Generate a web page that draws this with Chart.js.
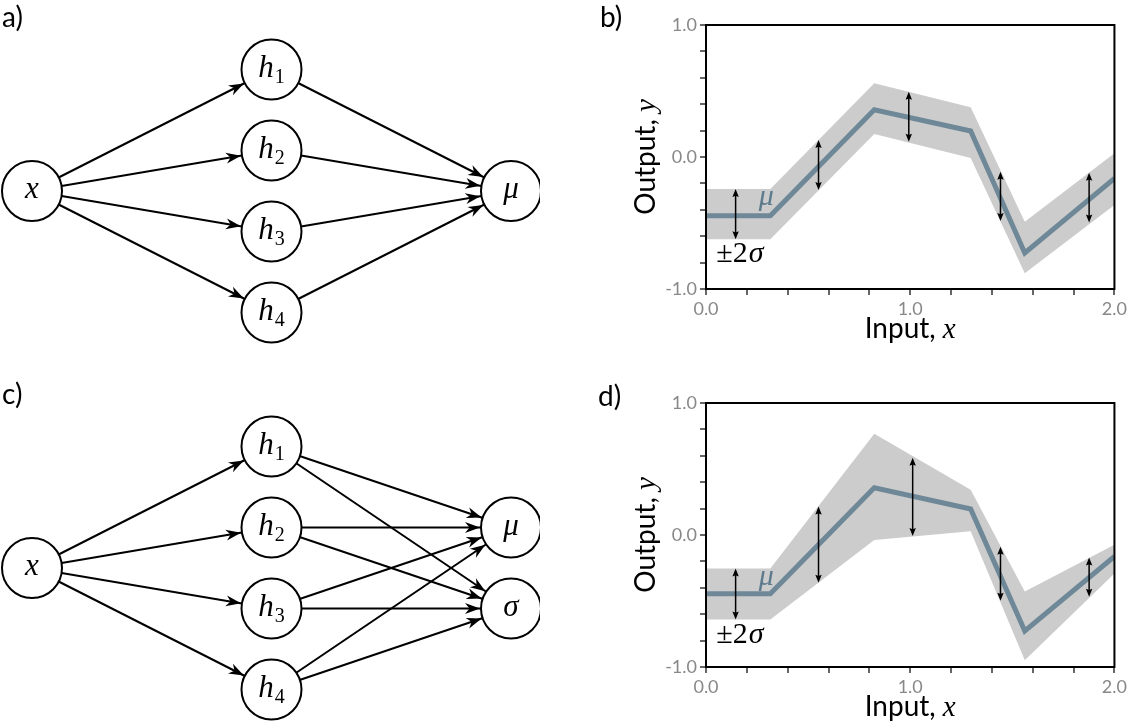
<!DOCTYPE html>
<html>
<head>
<meta charset="utf-8">
<script src="https://cdn.jsdelivr.net/npm/chart.js@4.4.0/dist/chart.umd.min.js"></script>
<style>
  html, body { margin: 0; padding: 0; background: #fff; overflow: hidden; }
  body { width: 1128px; height: 726px; position: relative; }
  canvas { position: absolute; }
  .tag { position: absolute; font: 28px Lato, sans-serif; line-height: 1; color: #000; }
</style>
</head>
<body>
<canvas id="netA" style="left:0;top:0" width="540" height="360"></canvas>
<canvas id="plotB" style="left:590px;top:0" width="540" height="350"></canvas>
<canvas id="netC" style="left:0;top:377px" width="540" height="349"></canvas>
<canvas id="plotD" style="left:590px;top:378px" width="540" height="348"></canvas>
<div class="tag" style="left:2px;top:2px">a)</div>
<div class="tag" style="left:600px;top:2px">b)</div>
<div class="tag" style="left:2px;top:379px">c)</div>
<div class="tag" style="left:598px;top:381px">d)</div>
<script>
// network a
const netNodes = ['x', 'h', 'h', 'h', 'h', 'μ'];
const netSubs = ['', '1', '2', '3', '4', ''];
const netLayer = [0, 1, 1, 1, 1, 2];
const netRow = [0, 1.5, 0.5, -0.5, -1.5, 0];
const netEdges = [[0, 1], [0, 2], [0, 3], [0, 4], [1, 5], [2, 5], [3, 5], [4, 5]];

// network c
const net2Nodes = ['x', 'h', 'h', 'h', 'h', 'μ', 'σ'];
const net2Subs = ['', '1', '2', '3', '4', '', ''];
const net2Layer = [0, 1, 1, 1, 1, 2, 2];
const net2Row = [0, 1.5, 0.5, -0.5, -1.5, 0.5, -0.5];
const net2Edges = [[0, 1], [0, 2], [0, 3], [0, 4], [1, 5], [2, 5], [3, 5], [4, 5], [1, 6], [2, 6], [3, 6], [4, 6]];

// plots b and d
const inputX = [0, 0.315, 0.824, 1.296, 1.561, 2.0];
const meanY = [-0.445, -0.445, 0.358, 0.197, -0.727, -0.163];
const upperB = [-0.242, -0.242, 0.558, 0.376, -0.49, 0.028];
const lowerB = [-0.624, -0.624, 0.174, -0.008, -0.881, -0.364];
const upperD = [-0.253, -0.253, 0.767, 0.342, -0.428, -0.073];
const lowerD = [-0.64, -0.64, -0.038, 0.028, -0.949, -0.291];

const arrowXB = [0.145, 0.551, 0.993, 1.442, 1.876];
const arrowHiB = [-0.242, 0.129, 0.495, -0.111, -0.119];
const arrowLoB = [-0.624, -0.25, 0.116, -0.485, -0.497];
const arrowXD = [0.145, 0.551, 1.012, 1.442, 1.876];
const arrowHiD = [-0.253, 0.215, 0.585, -0.089, -0.17];
const arrowLoD = [-0.64, -0.362, -0.008, -0.499, -0.468];

const xTickVals = [0, 1, 2];
const xTickText = ['0.0', '1.0', '2.0'];
const yTickVals = [-1, 0, 1];
const yTickText = ['-1.0', '0.0', '1.0'];

const SANS = 'Lato, sans-serif';
const SERIF = '"Liberation Serif", "DejaVu Serif", serif';
const LINE = '#6f8898';
const BAND = '#cccccc';
const TICK = '#666666';

Chart.defaults.font.family = SANS;

function head(ctx, x, y, ux, uy, len, half, notch) {
  const px = -uy, py = ux;
  ctx.beginPath();
  ctx.moveTo(x, y);
  ctx.lineTo(x - ux * len + px * half, y - uy * len + py * half);
  ctx.lineTo(x - ux * len * notch, y - uy * len * notch);
  ctx.lineTo(x - ux * len - px * half, y - uy * len - py * half);
  ctx.closePath();
  ctx.fill();
}

function netChart(id, names, subs, layers, rows, edges) {
  const canvas = document.getElementById(id);
  const H = canvas.height;
  const nodes = layers.map((l, i) => ({ x: l, y: rows[i] }));
  const edgeSets = edges.map(([a, b]) => ({
    data: [nodes[a], nodes[b]], showLine: true, borderColor: '#000', borderWidth: 2,
    pointRadius: 0, order: 1, clip: false
  }));
  new Chart(canvas, {
    type: 'scatter',
    data: {
      datasets: [{
        data: nodes, pointRadius: 30, pointBackgroundColor: '#fff', pointBorderColor: '#000',
        pointBorderWidth: 2, order: 0, clip: false
      }, ...edgeSets]
    },
    options: {
      responsive: false, animation: false, events: [],
      layout: { padding: 0, autoPadding: false },
      plugins: { legend: { display: false }, tooltip: { enabled: false } },
      scales: {
        x: { type: 'linear', display: false, min: -32 / 239.5, max: (540 - 32) / 239.5 },
        y: { type: 'linear', display: false, min: -(H - 191) / 81, max: 191 / 81 }
      }
    },
    plugins: [{
      id: 'netDecor',
      afterDatasetsDraw(chart) {
        const ctx = chart.ctx;
        const pts = chart.getDatasetMeta(0).data;
        ctx.save();
        ctx.fillStyle = '#000';
        edges.forEach(([a, b]) => {
          const s = pts[a], t = pts[b];
          const dx = t.x - s.x, dy = t.y - s.y, d = Math.hypot(dx, dy);
          const ux = dx / d, uy = dy / d;
          head(ctx, t.x - ux * 31, t.y - uy * 31, ux, uy, 15, 5.5, 0.7);
        });
        ctx.textBaseline = 'alphabetic';
        ctx.textAlign = 'left';
        pts.forEach((p, i) => {
          ctx.font = 'italic 31px ' + SERIF;
          const w1 = ctx.measureText(names[i]).width;
          ctx.font = '20px ' + SERIF;
          const w2 = subs[i] ? ctx.measureText(subs[i]).width + 1 : 0;
          const x0 = p.x - (w1 + w2) / 2;
          ctx.font = 'italic 31px ' + SERIF;
          ctx.fillText(names[i], x0, p.y + 7);
          if (subs[i]) {
            ctx.font = '20px ' + SERIF;
            ctx.fillText(subs[i], x0 + w1 + 1, p.y + 13);
          }
        });
        ctx.restore();
      }
    }]
  });
}

function tickLabel(v, vals, text) {
  const i = vals.findIndex(t => Math.abs(t - v) < 1e-6);
  return i < 0 ? '' : text[i];
}

function plotChart(id, upper, lower, arrowX, arrowHi, arrowLo, muAt, pmAt) {
  const canvas = document.getElementById(id);
  const pts = ys => inputX.map((x, i) => ({ x: x, y: ys[i] }));
  new Chart(canvas, {
    type: 'line',
    data: {
      datasets: [
        { data: pts(meanY), borderColor: LINE, borderWidth: 5, pointRadius: 0, fill: false },
        { data: pts(upper), borderColor: 'rgba(0,0,0,0)', borderWidth: 1, pointRadius: 0, backgroundColor: BAND, fill: '+1' },
        { data: pts(lower), borderColor: 'rgba(0,0,0,0)', borderWidth: 1, pointRadius: 0, fill: false }
      ]
    },
    options: {
      responsive: false, animation: false, events: [],
      layout: { padding: { top: 25, right: 14, left: 0, bottom: 0 } },
      plugins: { legend: { display: false }, tooltip: { enabled: false } },
      scales: {
        x: {
          type: 'linear', min: 0, max: 2,
          afterFit: s => { s.height = canvas.height - 289; },
          border: { display: false },
          grid: { drawOnChartArea: false, tickLength: 6, color: TICK, lineWidth: 2 },
          ticks: {
            stepSize: 0.2, autoSkip: false, maxRotation: 0, padding: 3, color: '#888',
            font: { size: 18 }, callback: v => tickLabel(v, xTickVals, xTickText)
          }
        },
        y: {
          min: -1, max: 1,
          afterFit: s => { s.width = 116; },
          border: { display: false },
          grid: { drawOnChartArea: false, tickLength: 6, color: TICK, lineWidth: 2 },
          ticks: {
            stepSize: 0.2, autoSkip: false, padding: 3, color: '#888',
            font: { size: 18 }, callback: v => tickLabel(v, yTickVals, yTickText)
          }
        }
      }
    },
    plugins: [{
      id: 'plotDecor',
      afterDatasetsDraw(chart) {
        const { ctx, chartArea: a, scales: { x, y } } = chart;
        ctx.save();
        ctx.strokeStyle = '#000';
        ctx.fillStyle = '#000';
        ctx.lineWidth = 1.5;
        arrowX.forEach((v, i) => {
          const px = x.getPixelForValue(v);
          const top = y.getPixelForValue(arrowHi[i]);
          const bot = y.getPixelForValue(arrowLo[i]);
          ctx.beginPath();
          ctx.moveTo(px, top + 5);
          ctx.lineTo(px, bot - 5);
          ctx.stroke();
          head(ctx, px, top, 0, -1, 8, 3.2, 0.85);
          head(ctx, px, bot, 0, 1, 8, 3.2, 0.85);
        });
        ctx.textBaseline = 'alphabetic';
        ctx.textAlign = 'center';
        ctx.fillStyle = '#5e7b8d';
        ctx.font = 'italic 30px ' + SERIF;
        ctx.fillText('μ', x.getPixelForValue(muAt[0]), y.getPixelForValue(muAt[1]));
        ctx.fillStyle = '#000';
        ctx.textAlign = 'left';
        const px0 = x.getPixelForValue(pmAt[0]), py0 = y.getPixelForValue(pmAt[1]);
        ctx.font = '30px ' + SERIF;
        ctx.fillText('±2', px0, py0);
        const w = ctx.measureText('±2').width;
        ctx.font = 'italic 30px ' + SERIF;
        ctx.fillText('σ', px0 + w + 1, py0);
        ctx.lineWidth = 2;
        ctx.strokeRect(a.left, a.top, a.right - a.left, a.bottom - a.top);
        ctx.restore();
      },
      afterDraw(chart) {
        const { ctx, chartArea: a } = chart;
        ctx.save();
        ctx.fillStyle = '#000';
        ctx.textBaseline = 'alphabetic';
        ctx.textAlign = 'left';
        // x title
        ctx.font = '28px ' + SANS;
        const w1 = ctx.measureText('Input, ').width;
        ctx.font = 'italic 29px ' + SERIF;
        const w2 = ctx.measureText('x').width;
        let x0 = (a.left + a.right) / 2 - (w1 + w2) / 2;
        ctx.font = '28px ' + SANS;
        ctx.fillText('Input, ', x0, a.bottom + 49);
        ctx.font = 'italic 29px ' + SERIF;
        ctx.fillText('x', x0 + w1, a.bottom + 49);
        // y title
        ctx.translate(65, (a.top + a.bottom) / 2);
        ctx.rotate(-Math.PI / 2);
        ctx.font = '28px ' + SANS;
        const v1 = ctx.measureText('Output, ').width;
        ctx.font = 'italic 29px ' + SERIF;
        const v2 = ctx.measureText('y').width;
        x0 = -(v1 + v2) / 2;
        ctx.font = '28px ' + SANS;
        ctx.fillText('Output, ', x0, 0);
        ctx.font = 'italic 29px ' + SERIF;
        ctx.fillText('y', x0 + v1, 0);
        ctx.restore();
      }
    }]
  });
}

netChart('netA', netNodes, netSubs, netLayer, netRow, netEdges);
netChart('netC', net2Nodes, net2Subs, net2Layer, net2Row, net2Edges);
plotChart('plotB', upperB, lowerB, arrowXB, arrowHiB, arrowLoB, [0.295, -0.364], [0.05, -0.795]);
plotChart('plotD', upperD, lowerD, arrowXD, arrowHiD, arrowLoD, [0.295, -0.375], [0.05, -0.815]);
</script>
</body>
</html>
